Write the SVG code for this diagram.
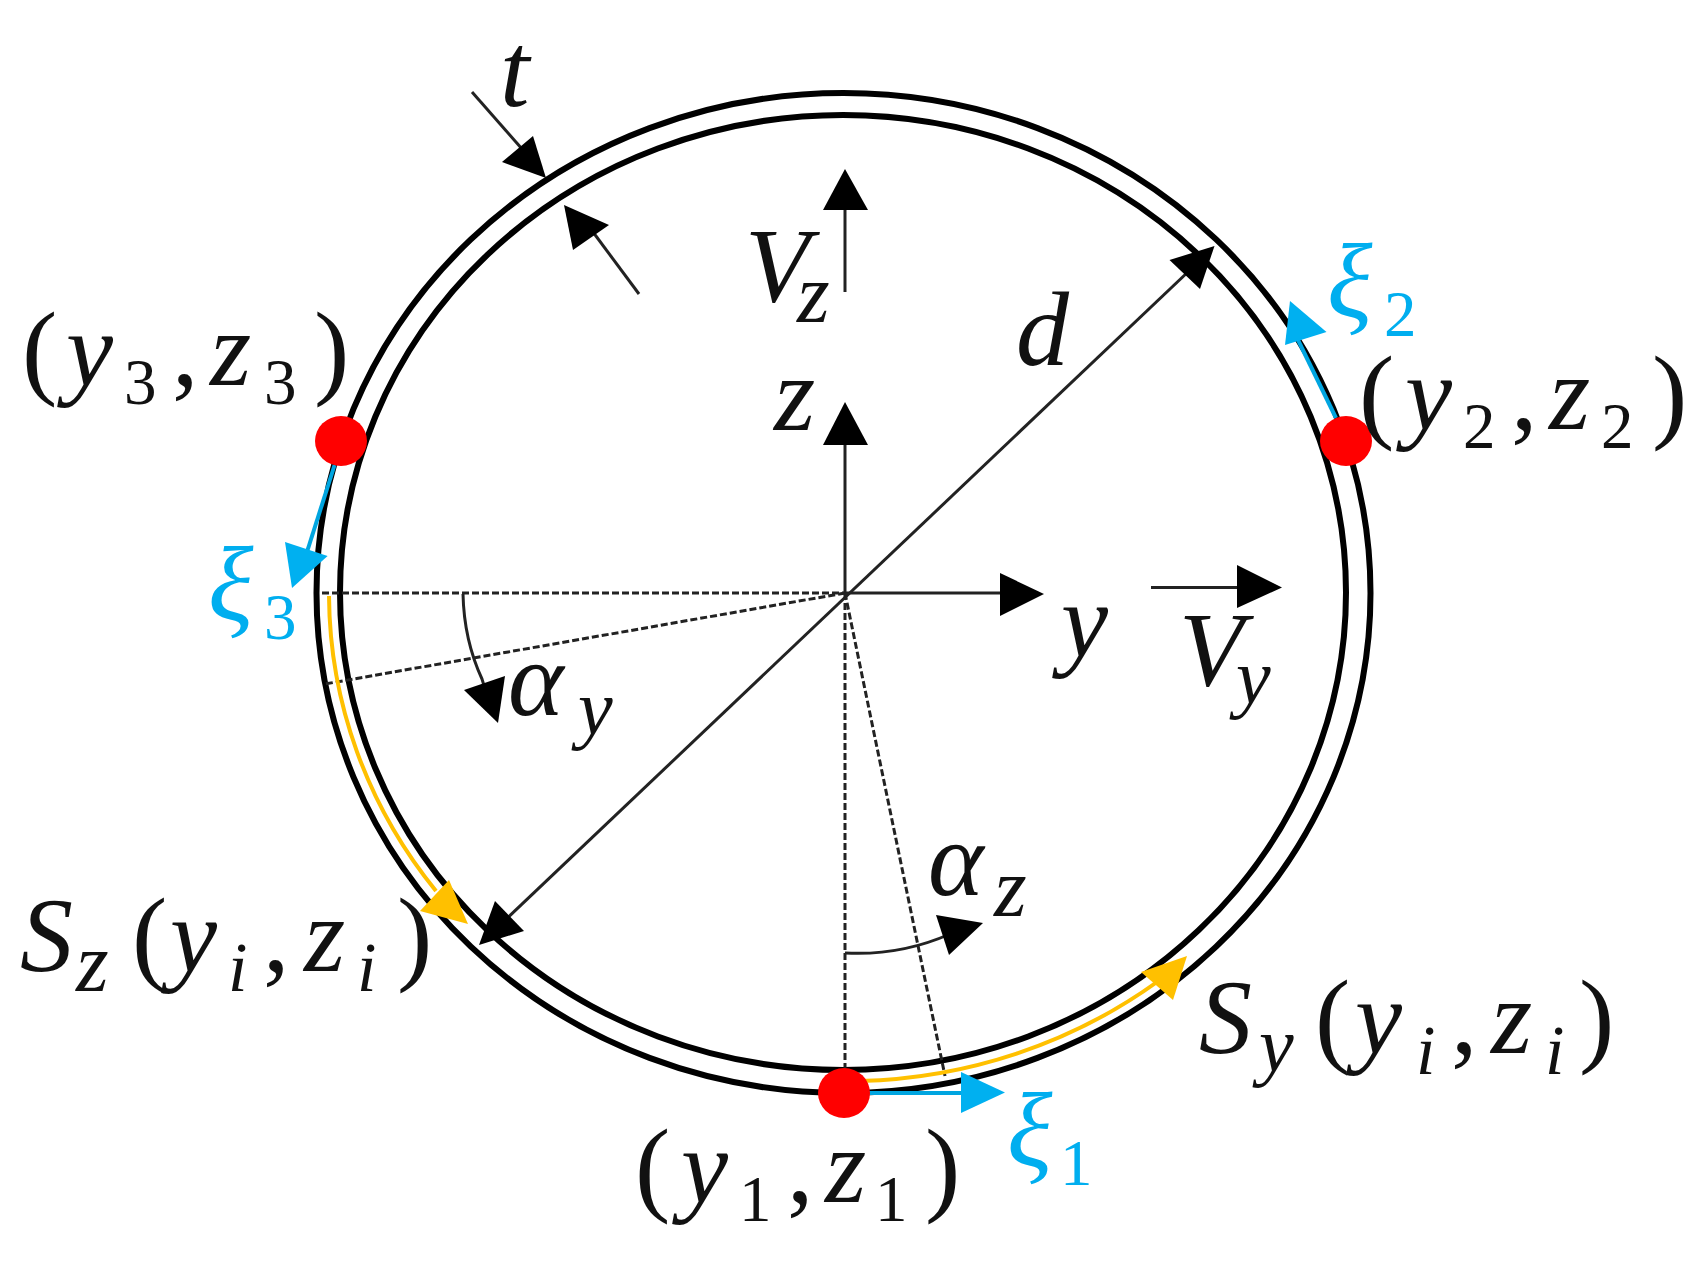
<svg xmlns="http://www.w3.org/2000/svg" width="1698" height="1262" viewBox="0 0 1698 1262">
<style>
.bg{fill:#fff}
.ring{fill:none;stroke:#000;stroke-width:6}
.thin{fill:none;stroke:#222;stroke-width:3}
.dash{fill:none;stroke:#222;stroke-width:3;stroke-dasharray:7 3}
.head{fill:#000}
.yl{fill:none;stroke:#FFC000;stroke-width:4}
.yh{fill:#FFC000}
.cl{fill:none;stroke:#00A5E0;stroke-width:4}
.ch{fill:#00B0F0}
.dot{fill:#FF0000}
text{font-family:"Liberation Serif","Times New Roman",serif;fill:#111;font-size:106px}
.i{font-style:italic}
.s{font-size:65px}
.si{font-style:italic;font-size:84px}
.sy{font-style:italic;font-size:78px}
.sn{font-style:italic;font-size:70px}
.blue,.blue tspan{fill:#00AEEF}
</style>
<rect class="bg" x="0" y="0" width="1698" height="1262"/>
<g id="pipe">
<ellipse class="ring" cx="843.5" cy="593" rx="527" ry="500"/>
<ellipse class="ring" cx="843" cy="592.5" rx="503" ry="477.5"/>
</g>
<g id="connectors">
<path class="dash" d="M322 593H845"/>
<path class="dash" d="M845 593L325 684"/>
<path class="dash" d="M845 593V1072"/>
<path class="dash" d="M845 593L945 1076"/>
<path class="thin" d="M463 594Q464 640 482 679L490 705"/>
<path class="thin" d="M845 953Q900 956 950 934"/>
<polygon class="head" points="498,723 464,690 505,676"/>
<polygon class="head" points="983,923 936,915 949,955"/>
<path class="thin" d="M472 92L530 158"/>
<polygon class="head" points="546,178 533,136 502,162"/>
<path class="thin" d="M639 294L590 228"/>
<polygon class="head" points="564,205 609,225 573,250"/>
<path class="thin" d="M845 292V205"/>
<polygon class="head" points="845,169 823,210 868,210"/>
<path class="thin" d="M845 593V440"/>
<polygon class="head" points="845,402 823,445 868,445"/>
<path class="thin" d="M845 593H1005"/>
<polygon class="head" points="1044,594 1000,573 1000,616"/>
<path class="thin" d="M1151 587.5H1240"/>
<polygon class="head" points="1282,587.5 1237,565 1237,608"/>
<path class="thin" d="M1190 270L500 925"/>
<polygon class="head" points="1214.5,246 1169.5,260 1200,289"/>
<polygon class="head" points="479,945 495,901 524,931"/>
<path class="yl" d="M329 596A515 488.5 0 0 0 436 891"/>
<polygon class="yh" points="468,924 449,880 420,911"/>
<path class="yl" d="M860 1081A515 488.5 0 0 0 1157 982"/>
<polygon class="yh" points="1187,956 1141,972 1173,1000"/>
<path class="cl" d="M866 1093H965"/>
<polygon class="ch" points="1005,1092.5 961,1072 961,1113"/>
<path class="cl" d="M1336 418L1298 340"/>
<polygon class="ch" points="1290,301 1285,345 1326.5,332"/>
<path class="cl" d="M334.6 465L306 555"/>
<polygon class="ch" points="292,588 285,542 327.6,556"/>
</g>
<g id="point-1"><ellipse class="dot" cx="844" cy="1093" rx="26" ry="25"/>
<text y="1202"><tspan x="635">(</tspan><tspan x="681" class="i">y</tspan><tspan x="739" y="1221" class="s">1</tspan><tspan x="787" y="1202">,</tspan><tspan x="825" class="i">z</tspan><tspan x="875" y="1221" class="s">1</tspan><tspan x="925" y="1202">)</tspan></text></g>
<g id="point-2"><ellipse class="dot" cx="1346" cy="441" rx="26" ry="25"/>
<text y="429"><tspan x="1359">(</tspan><tspan x="1405" class="i">y</tspan><tspan x="1463" y="448" class="s">2</tspan><tspan x="1511" y="429">,</tspan><tspan x="1549" class="i">z</tspan><tspan x="1601" y="448" class="s">2</tspan><tspan x="1652" y="429">)</tspan></text></g>
<g id="point-3"><ellipse class="dot" cx="341" cy="441" rx="26" ry="25"/>
<text y="385"><tspan x="22">(</tspan><tspan x="66" class="i">y</tspan><tspan x="124" y="404" class="s">3</tspan><tspan x="172" y="385">,</tspan><tspan x="210" class="i">z</tspan><tspan x="264" y="404" class="s">3</tspan><tspan x="314" y="385">)</tspan></text></g>
<g id="label-t"><text x="500" y="106" class="i">t</text></g>
<g id="label-vz"><text y="301"><tspan x="745" class="i">V</tspan><tspan x="797" y="322" class="si">z</tspan></text></g>
<g id="label-z"><text x="774" y="430" class="i">z</text></g>
<g id="label-d"><text x="1016" y="365" class="i">d</text></g>
<g id="label-y"><text x="1061" y="656" class="i">y</text></g>
<g id="label-vy"><text y="685"><tspan x="1179" class="i">V</tspan><tspan x="1236" y="703" class="sy">y</tspan></text></g>
<g id="label-ay"><text y="715"><tspan x="508" class="i">α</tspan><tspan x="578" y="734" class="sy">y</tspan></text></g>
<g id="label-az"><text y="895"><tspan x="928" class="i">α</tspan><tspan x="994" y="916" class="si">z</tspan></text></g>
<g id="label-sz"><text y="971"><tspan x="20" class="i">S</tspan><tspan x="76" y="991" class="si">z</tspan><tspan x="132" y="971">(</tspan><tspan x="170" class="i">y</tspan><tspan x="228" y="991" class="sn">i</tspan><tspan x="263" y="971">,</tspan><tspan x="304" class="i">z</tspan><tspan x="357" y="991" class="sn">i</tspan><tspan x="397" y="971">)</tspan></text></g>
<g id="label-sy"><text y="1053"><tspan x="1199" class="i">S</tspan><tspan x="1259" y="1071" class="sy">y</tspan><tspan x="1315" y="1053">(</tspan><tspan x="1355" class="i">y</tspan><tspan x="1416" y="1074" class="sn">i</tspan><tspan x="1451" y="1053">,</tspan><tspan x="1491" class="i">z</tspan><tspan x="1545" y="1074" class="sn">i</tspan><tspan x="1579" y="1053">)</tspan></text></g>
<g id="label-xi1"><text y="1166" class="blue"><tspan x="1007" class="i">ξ</tspan><tspan x="1060" y="1185" class="s">1</tspan></text></g>
<g id="label-xi2"><text y="317" class="blue"><tspan x="1327" class="i">ξ</tspan><tspan x="1384" y="336" class="s">2</tspan></text></g>
<g id="label-xi3"><text y="620" class="blue"><tspan x="208" class="i">ξ</tspan><tspan x="264" y="639" class="s">3</tspan></text></g>
</svg>
